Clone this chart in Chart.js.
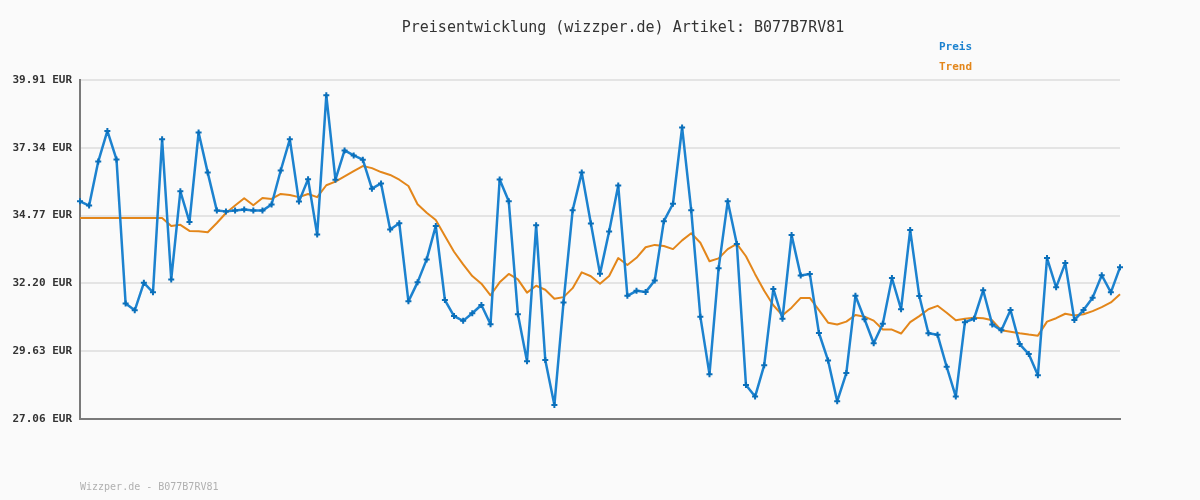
<!DOCTYPE html>
<html>
<head>
<meta charset="utf-8">
<script src="https://cdn.jsdelivr.net/npm/chart.js@4"></script>
<style>
  html, body { margin: 0; padding: 0; background: #fafafa; }
  #wrap { width: 1200px; height: 500px; position: relative; }
</style>
</head>
<body>
<div id="wrap"><canvas id="c" width="1200" height="500"></canvas></div>
<script>
const titleText = 'Preisentwicklung (wizzper.de) Artikel: B077B7RV81';
const footerText = 'Wizzper.de - B077B7RV81';
const seriesNames = ['Preis', 'Trend'];

const prices = [
  35.31, 35.15, 36.82, 37.98, 36.90, 31.44, 31.18, 32.22, 31.86, 37.66,
  32.35, 35.69, 34.53, 37.92, 36.40, 34.96, 34.93, 34.96, 35.00, 34.96,
  34.96, 35.19, 36.48, 37.66, 35.30, 36.15, 34.05, 39.33, 36.13, 37.24,
  37.05, 36.89, 35.79, 35.99, 34.24, 34.48, 31.52, 32.24, 33.11, 34.38,
  31.57, 30.96, 30.78, 31.07, 31.38, 30.65, 36.14, 35.31, 31.03, 29.25,
  34.40, 29.30, 27.59, 31.48, 34.97, 36.40, 34.47, 32.57, 34.17, 35.91,
  31.73, 31.92, 31.87, 32.31, 34.56, 35.22, 38.11, 34.97, 30.94, 28.76,
  32.77, 35.31, 33.69, 28.35, 27.91, 29.10, 31.99, 30.86, 34.03, 32.50,
  32.56, 30.32, 29.28, 27.73, 28.80, 31.73, 30.84, 29.93, 30.67, 32.40,
  31.22, 34.22, 31.72, 30.31, 30.25, 29.04, 27.91, 30.73, 30.86, 31.94,
  30.64, 30.42, 31.19, 29.90, 29.52, 28.72, 33.16, 32.05, 32.97, 30.81,
  31.19, 31.66, 32.51, 31.86, 32.81
];

const trend = [
  34.68, 34.68, 34.68, 34.68, 34.68, 34.68, 34.68, 34.68, 34.68, 34.68,
  34.38, 34.42, 34.19, 34.18, 34.14, 34.49, 34.87, 35.15, 35.43, 35.16,
  35.44, 35.40, 35.59, 35.55, 35.47, 35.59, 35.47, 35.92, 36.06, 36.26,
  36.46, 36.65, 36.57, 36.42, 36.31, 36.13, 35.89, 35.20, 34.88, 34.60,
  34.00, 33.40, 32.92, 32.48, 32.19, 31.75, 32.24, 32.56, 32.35, 31.85,
  32.11, 31.96, 31.62, 31.68, 32.02, 32.62, 32.47, 32.19, 32.48, 33.16,
  32.90, 33.17, 33.57, 33.66, 33.62, 33.50, 33.83, 34.10, 33.74, 33.04,
  33.15, 33.50, 33.70, 33.23, 32.55, 31.92, 31.37, 30.99, 31.28, 31.65,
  31.65, 31.19, 30.71, 30.64, 30.75, 31.00, 30.94, 30.79, 30.45, 30.45,
  30.30, 30.73, 30.96, 31.22, 31.35, 31.09, 30.80, 30.86, 30.90, 30.88,
  30.80, 30.42, 30.37, 30.31, 30.26, 30.22, 30.75, 30.88, 31.05, 30.98,
  31.03, 31.15, 31.30, 31.48, 31.79
];

const tickValues = [27.06, 29.63, 32.20, 34.77, 37.34, 39.91];
const tickLabels = ['27.06 EUR', '29.63 EUR', '32.20 EUR', '34.77 EUR', '37.34 EUR', '39.91 EUR'];

const categories = prices.map((_, i) => String(i + 1));

const BLUE = '#1c82cf';
const BLUE_DARK = '#0a6fba';
const ORANGE = '#e3861a';

const textPlugin = {
  id: 'texts',
  beforeDraw(chart) {
    const ctx = chart.ctx;
    ctx.save();
    ctx.fillStyle = '#fafafa';
    ctx.fillRect(0, 0, chart.width, chart.height);
    ctx.restore();
  },
  afterDraw(chart) {
    const ctx = chart.ctx;
    ctx.save();
    ctx.textBaseline = 'middle';
    ctx.font = '15px "DejaVu Sans Mono"';
    ctx.fillStyle = '#333';
    ctx.textAlign = 'center';
    ctx.fillText(titleText, 623, 28);
    ctx.textAlign = 'left';
    ctx.font = 'bold 11px "DejaVu Sans Mono"';
    ctx.fillStyle = BLUE;
    ctx.fillText(seriesNames[0], 939, 47);
    ctx.fillStyle = ORANGE;
    ctx.fillText(seriesNames[1], 939, 67);
    ctx.font = '10px "DejaVu Sans Mono"';
    ctx.fillStyle = '#b0b0b0';
    ctx.fillText(footerText, 80, 487);
    ctx.restore();
  }
};

new Chart(document.getElementById('c'), {
  type: 'line',
  data: {
    labels: categories,
    datasets: [
      {
        label: seriesNames[1],
        data: trend,
        borderColor: ORANGE,
        borderWidth: 2,
        borderJoinStyle: 'round',
        pointRadius: 0,
        tension: 0,
        order: 2
      },
      {
        label: seriesNames[0],
        data: prices,
        borderColor: BLUE,
        borderWidth: 2.5,
        borderJoinStyle: 'round',
        pointStyle: 'cross',
        pointRadius: 3,
        pointBackgroundColor: BLUE_DARK,
        pointBorderColor: BLUE_DARK,
        pointBorderWidth: 2,
        tension: 0,
        order: 1
      }
    ]
  },
  options: {
    responsive: false,
    animation: false,
    devicePixelRatio: 1,
    layout: { padding: { left: 0, right: 80, top: 80, bottom: 81 } },
    plugins: {
      legend: { display: false },
      title: { display: false },
      tooltip: { enabled: false }
    },
    scales: {
      x: {
        type: 'category',
        offset: false,
        grid: { display: false, drawTicks: false },
        ticks: { display: false },
        border: { display: true, color: '#7a7a7a', width: 2 },
        afterFit(scale) { scale.height = 0; }
      },
      y: {
        min: tickValues[0],
        max: tickValues[tickValues.length - 1],
        afterBuildTicks(scale) {
          scale.ticks = tickValues.map(v => ({ value: v }));
        },
        afterFit(scale) { scale.width = 80; },
        grid: { color: '#e4e4e4', lineWidth: 2, drawTicks: false },
        border: { display: true, color: '#7a7a7a', width: 2 },
        ticks: {
          padding: 8,
          color: '#333',
          font: { family: 'DejaVu Sans Mono', size: 11, weight: 'bold' },
          callback(value, index) { return tickLabels[index]; }
        }
      }
    }
  },
  plugins: [textPlugin]
});
</script>
</body>
</html>
